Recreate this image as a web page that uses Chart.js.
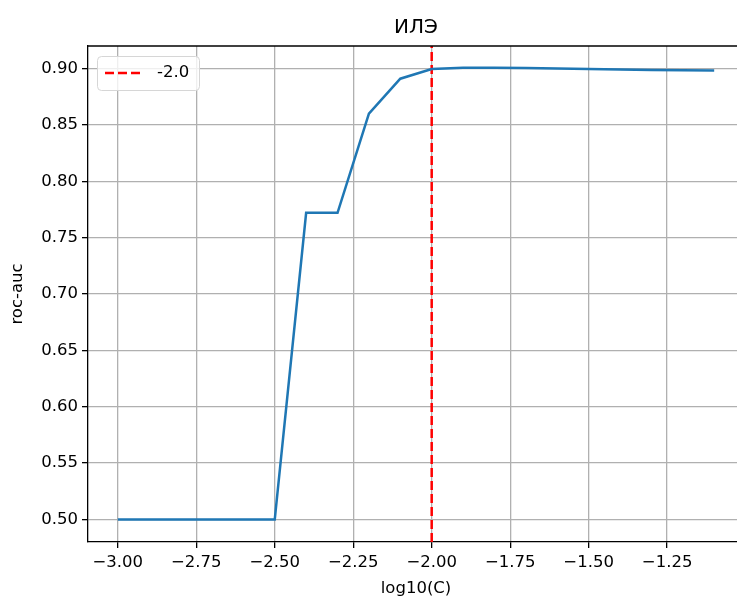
<!DOCTYPE html>
<html>
<head>
<meta charset="utf-8">
<script src="https://cdn.jsdelivr.net/npm/chart.js@4"></script>
<style>
  html, body { margin: 0; padding: 0; background: #fff; overflow: hidden; }
  #wrap { width: 832px; height: 599px; }
  #rocChart { width: 832px; height: 599px; display: block; }
</style>
</head>
<body>
<div id="wrap"><canvas id="rocChart" width="832" height="599"></canvas></div>
<script>
// log10(C) grid and roc-auc
const logC = [-3.0, -2.9, -2.8, -2.7, -2.6, -2.5, -2.4, -2.3, -2.2, -2.1, -2.0, -1.9, -1.8, -1.7, -1.6, -1.5, -1.4, -1.3, -1.2, -1.1]
const rocAuc = [0.5, 0.5, 0.5, 0.5, 0.5, 0.5, 0.772, 0.772, 0.860, 0.891, 0.8995, 0.9006, 0.9006, 0.9004, 0.9001, 0.8996, 0.8992, 0.8988, 0.8985, 0.8982]
const bestLogC = -2.0
const xTicks = [-3.0, -2.75, -2.5, -2.25, -2.0, -1.75, -1.5, -1.25]
const yTicks = [0.5, 0.55, 0.6, 0.65, 0.7, 0.75, 0.8, 0.85, 0.9]
const xRange = [-3.095, -1.005]
const yRange = [0.48, 0.92]
const titleText = "ИЛЭ"

const FONT = "'DejaVu Sans', sans-serif"
const fmt = (v) => v.toFixed(2).replace("-", "\u2212")

// title over the plot area, top spine, legend box in the upper left corner
const framePlugin = {
  id: "frame",
  beforeDraw(chart) {
    const ctx = chart.ctx
    ctx.save()
    ctx.fillStyle = "#fff"
    ctx.fillRect(0, 0, chart.width, chart.height)
    ctx.restore()
  },
  afterDraw(chart) {
    const { ctx, chartArea } = chart
    ctx.save()
    ctx.strokeStyle = "#000"
    ctx.lineWidth = 1.3
    ctx.beginPath()
    ctx.moveTo(chartArea.left, chartArea.top)
    ctx.lineTo(chartArea.right, chartArea.top)
    ctx.stroke()

    ctx.fillStyle = "#000"
    ctx.font = "20px " + FONT
    ctx.textAlign = "center"
    ctx.textBaseline = "middle"
    ctx.fillText(titleText, (chartArea.left + chartArea.right) / 2, chartArea.top - 18)

    const ds = chart.data.datasets[1]
    const bx = chartArea.left + 9, by = chartArea.top + 10, bw = 102, bh = 34
    ctx.fillStyle = "rgba(255,255,255,0.8)"
    ctx.strokeStyle = "#d6d6d6"
    ctx.lineWidth = 1
    ctx.beginPath()
    ctx.roundRect(bx + 0.5, by + 0.5, bw, bh, 4)
    ctx.fill()
    ctx.stroke()

    const ly = by + bh / 2
    ctx.strokeStyle = ds.borderColor
    ctx.lineWidth = ds.borderWidth
    ctx.setLineDash(ds.borderDash)
    ctx.beginPath()
    ctx.moveTo(bx + 8, ly)
    ctx.lineTo(bx + 44, ly)
    ctx.stroke()
    ctx.setLineDash([])

    ctx.fillStyle = "#000"
    ctx.font = "16.5px " + FONT
    ctx.textAlign = "left"
    ctx.fillText(ds.label, bx + 60, ly)
    ctx.restore()
  },
}

new Chart(document.getElementById("rocChart"), {
  type: "line",
  data: {
    datasets: [
      {
        label: "roc-auc",
        data: logC.map((x, i) => ({ x: x, y: rocAuc[i] })),
        borderColor: "#1f77b4",
        borderWidth: 2.5,
        pointRadius: 0,
        tension: 0,
        fill: false,
      },
      {
        label: bestLogC.toFixed(1),
        data: [
          { x: bestLogC, y: yRange[0] },
          { x: bestLogC, y: yRange[1] },
        ],
        borderColor: "#ff0000",
        borderWidth: 2.5,
        borderDash: [9, 4],
        pointRadius: 0,
        fill: false,
      },
    ],
  },
  options: {
    responsive: false,
    animation: false,
    devicePixelRatio: 1,
    layout: { padding: { left: 0, right: 88, top: 46, bottom: 0 } },
    plugins: {
      legend: { display: false },
      tooltip: { enabled: false },
      title: { display: false },
    },
    scales: {
      x: {
        type: "linear",
        min: xRange[0],
        max: xRange[1],
        afterBuildTicks: (scale) => {
          scale.ticks = xTicks.map((v) => ({ value: v }))
        },
        afterFit: (scale) => {
          scale.height = 57
        },
        ticks: {
          color: "#000",
          padding: 5,
          maxRotation: 0,
          autoSkip: false,
          font: { family: FONT, size: 16.5 },
          callback: (v) => fmt(v),
        },
        grid: { color: "#b0b0b0", lineWidth: 1.3, tickColor: "#000", tickLength: 6, tickWidth: 1.3 },
        border: { color: "#000", width: 1.3 },
        title: {
          display: true,
          text: "log10(C)",
          color: "#000",
          font: { family: FONT, size: 16.5, lineHeight: 1.2 },
          padding: { top: 1, bottom: 0 },
        },
      },
      y: {
        type: "linear",
        min: yRange[0],
        max: yRange[1],
        afterBuildTicks: (scale) => {
          scale.ticks = yTicks.map((v) => ({ value: v }))
        },
        afterFit: (scale) => {
          scale.width = 88
        },
        ticks: {
          color: "#000",
          padding: 4,
          autoSkip: false,
          font: { family: FONT, size: 16.5 },
          callback: (v) => fmt(v),
        },
        grid: { color: "#b0b0b0", lineWidth: 1.3, tickColor: "#000", tickLength: 6, tickWidth: 1.3 },
        border: { color: "#000", width: 1.3 },
        title: {
          display: true,
          text: "roc-auc",
          color: "#000",
          font: { family: FONT, size: 16.5, lineHeight: 1.2 },
          padding: { top: 8, bottom: 0 },
        },
      },
    },
  },
  plugins: [framePlugin],
})
</script>
</body>
</html>
